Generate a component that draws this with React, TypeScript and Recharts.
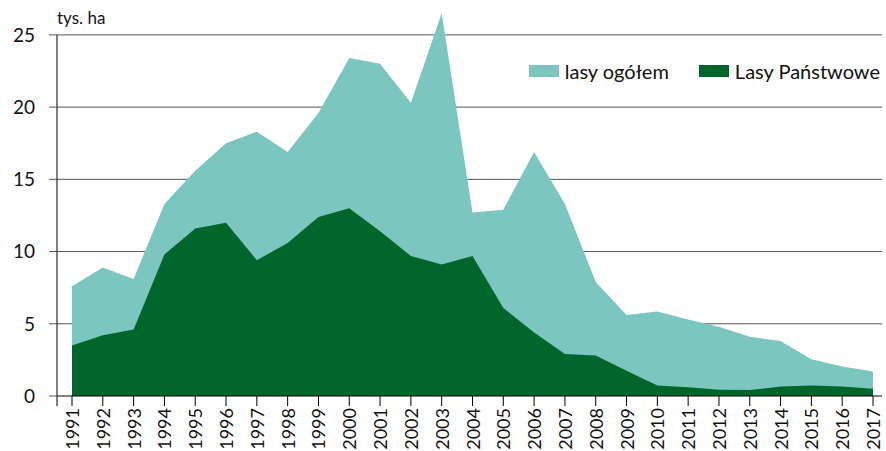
import { AreaChart, Area, XAxis, YAxis, CartesianGrid, ReferenceLine } from 'recharts';

const years = [
  '1991', '1992', '1993', '1994', '1995', '1996', '1997', '1998', '1999', '2000',
  '2001', '2002', '2003', '2004', '2005', '2006', '2007', '2008', '2009', '2010',
  '2011', '2012', '2013', '2014', '2015', '2016', '2017',
];

// lasy ogółem, tys. ha
const totalForests = [
  7.6, 8.9, 8.1, 13.3, 15.6, 17.5, 18.3, 16.9, 19.6, 23.4,
  23.0, 20.3, 26.5, 12.7, 12.9, 16.9, 13.3, 7.9, 5.6, 5.85,
  5.3, 4.8, 4.1, 3.8, 2.55, 2.05, 1.7,
];

// Lasy Państwowe, tys. ha
const stateForests = [
  3.5, 4.2, 4.6, 9.8, 11.6, 12.0, 9.4, 10.6, 12.4, 13.0,
  11.4, 9.7, 9.1, 9.7, 6.1, 4.4, 2.9, 2.8, 1.75, 0.73,
  0.6, 0.44, 0.41, 0.66, 0.73, 0.66, 0.5,
];

const yTicks = [0, 5, 10, 15, 20, 25];
const gridValues = [5, 10, 15, 20, 25];

const TEAL = '#7bc6bf';
const GREEN = '#00662b';
const GRID = '#555';
const FONT = 'Lato, "Open Sans", sans-serif';

const data = years.map((year, i) => ({
  year,
  total: totalForests[i],
  state: stateForests[i],
}));

const YearTick = ({ x, y, payload }: any) => (
  <g transform={`translate(${x},${y})`}>
    <text
      x={0}
      y={0}
      transform="rotate(-90)"
      textAnchor="end"
      dominantBaseline="central"
      fontFamily={FONT}
      fontSize={18}
      fill="#111"
    >
      {payload.value}
    </text>
  </g>
);

const Swatch = ({ color }: { color: string }) => (
  <span style={{ width: 30, height: 12, background: color, marginRight: 6, display: 'inline-block' }} />
);

export default function App() {
  return (
    <div style={{ position: 'absolute', left: 0, top: 0, width: 886, height: 451, background: '#fff' }}>
      <div
        style={{
          position: 'absolute',
          left: 57,
          top: 8,
          fontFamily: FONT,
          fontSize: 17,
          color: '#111',
          lineHeight: '20px',
        }}
      >
        tys. ha
      </div>
      <div
        style={{
          position: 'absolute',
          right: 6,
          top: 59,
          zIndex: 1,
          display: 'flex',
          alignItems: 'center',
          fontFamily: FONT,
          fontSize: 20,
          lineHeight: '24px',
          color: '#111',
        }}
      >
        <Swatch color={TEAL} />
        <span style={{ marginRight: 30 }}>lasy ogółem</span>
        <Swatch color={GREEN} />
        <span>Lasy Państwowe</span>
      </div>
      <AreaChart width={886} height={451} data={data} margin={{ top: 6, right: 4, left: 0, bottom: 0 }}>
        <CartesianGrid vertical={false} horizontalValues={gridValues} stroke={GRID} />
        <XAxis
          dataKey="year"
          interval={0}
          padding={{ left: 15, right: 9 }}
          height={55}
          tickSize={10}
          tickMargin={2}
          stroke="#000"
          tick={<YearTick />}
        />
        <XAxis xAxisId="edge" type="number" domain={[0, 1]} hide />
        <YAxis
          width={57}
          domain={[0, 27]}
          allowDataOverflow
          ticks={yTicks}
          interval={0}
          axisLine={false}
          tickSize={8}
          tickMargin={14}
          tickLine={{ stroke: GRID }}
          tick={{ fontFamily: FONT, fontSize: 19, fill: '#111' }}
        />
        <Area
          type="linear"
          dataKey="total"
          name="lasy ogółem"
          stroke="none"
          fill={TEAL}
          fillOpacity={1}
          isAnimationActive={false}
        />
        <Area
          type="linear"
          dataKey="state"
          name="Lasy Państwowe"
          stroke="none"
          fill={GREEN}
          fillOpacity={1}
          isAnimationActive={false}
        />
        <ReferenceLine
          xAxisId="edge"
          segment={[{ x: 0, y: -0.7 }, { x: 0, y: 25 }]}
          stroke="#000"
          ifOverflow="visible"
        />
      </AreaChart>
    </div>
  );
}
